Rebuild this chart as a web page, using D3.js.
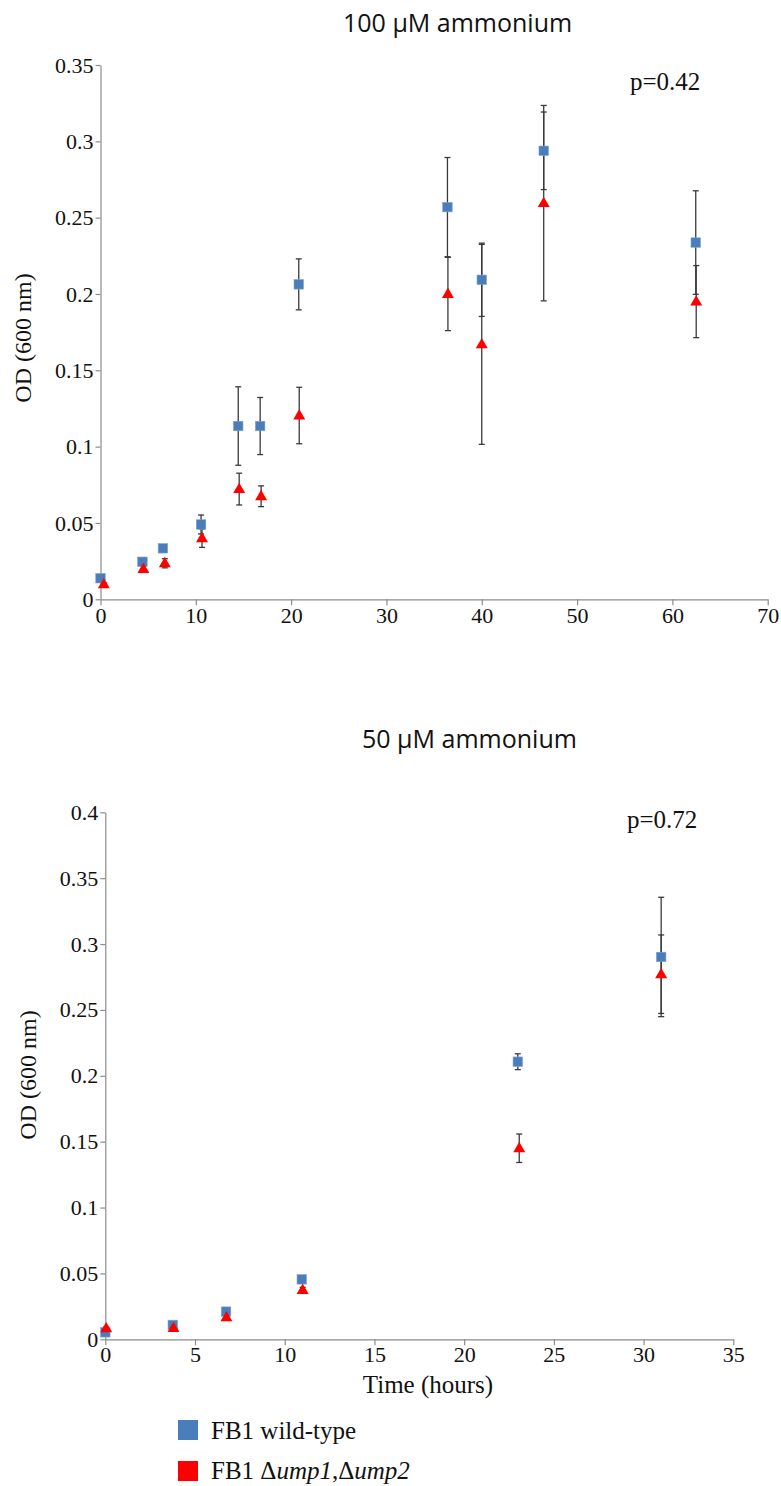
<!DOCTYPE html>
<html>
<head>
<meta charset="utf-8">
<script src="https://cdn.jsdelivr.net/npm/d3@7"></script>
<style>
  html, body { margin: 0; padding: 0; background: #fff; }
  svg { display: block; }
  .tick text { font-family: "Liberation Serif", "Times New Roman", serif; font-size: 22px; fill: #111; }
  .serif { font-family: "Liberation Serif", "Times New Roman", serif; fill: #111; }
  .title { font-family: "Open Sans", "Noto Sans", sans-serif; font-size: 25px; fill: #111; }
</style>
</head>
<body>
<svg id="chart" width="781" height="1486"></svg>
<script>
// ---------- Data: 100 µM ammonium ----------
const wt100Time = [0, 4.4, 6.55, 10.55, 14.45, 16.75, 20.8, 36.4, 40.0, 46.5, 62.45];
const wt100OD   = [0.0138, 0.0246, 0.0334, 0.049, 0.1135, 0.1135, 0.2063, 0.2569, 0.2093, 0.2938, 0.2337];
const wt100Err  = [0.001, 0.002, 0.002, 0.0062, 0.0257, 0.0187, 0.0167, 0.0325, 0.024, 0.0254, 0.0339];
const mut100Time = [0.35, 4.5, 6.75, 10.65, 14.55, 16.85, 20.85, 36.45, 40.0, 46.5, 62.5];
const mut100OD   = [0.0098, 0.0199, 0.0236, 0.040, 0.0722, 0.0675, 0.1204, 0.2, 0.167, 0.2595, 0.195];
const mut100Err  = [0.001, 0.002, 0.003, 0.006, 0.0104, 0.0068, 0.0185, 0.024, 0.0655, 0.064, 0.0236];

// ---------- Data: 50 µM ammonium ----------
const wt50Time = [0, 3.76, 6.73, 10.95, 22.99, 30.98];
const wt50OD   = [0.0053, 0.0109, 0.021, 0.0455, 0.2107, 0.2902];
const wt50Err  = [0.001, 0.002, 0.001, 0.001, 0.006, 0.0453];
const mut50Time = [0.05, 3.8, 6.75, 11.0, 23.07, 30.98];
const mut50OD   = [0.0083, 0.0085, 0.0167, 0.0374, 0.145, 0.2771];
const mut50Err  = [0.001, 0.001, 0.002, 0.002, 0.0108, 0.0298];

// ---------- Axis ticks ----------
const yTicks100 = [0, 0.05, 0.1, 0.15, 0.2, 0.25, 0.3, 0.35];
const yTickLabels100 = ["0", "0.05", "0.1", "0.15", "0.2", "0.25", "0.3", "0.35"];
const xTicks100 = [0, 10, 20, 30, 40, 50, 60, 70];
const yTicks50 = [0, 0.05, 0.1, 0.15, 0.2, 0.25, 0.3, 0.35, 0.4];
const yTickLabels50 = ["0", "0.05", "0.1", "0.15", "0.2", "0.25", "0.3", "0.35", "0.4"];
const xTicks50 = [0, 5, 10, 15, 20, 25, 30, 35];

const titles = ["100 µM ammonium", "50 µM ammonium"];
const pValues = ["p=0.42", "p=0.72"];
const yLabel = "OD (600 nm)";
const xLabel = "Time (hours)";
const seriesNames = ["FB1 wild-type", "FB1 Δump1,Δump2"];

const BLUE = "#4A7EBB";
const RED = "#FF0000";
const AXIS = "#8c8c8c";
const ERR = "#3a3a3a";

const svg = d3.select("#chart");

function drawPanel(cfg) {
  const g = svg.append("g");
  const x = d3.scaleLinear().domain(cfg.xDomain).range(cfg.xRange);
  const y = d3.scaleLinear().domain(cfg.yDomain).range(cfg.yRange);

  const ya = g.append("g")
    .attr("transform", `translate(${cfg.xRange[0]},0)`)
    .call(d3.axisLeft(y).tickValues(cfg.yTicks)
      .tickFormat((d, i) => cfg.yTickLabels[i]).tickSize(5).tickSizeOuter(0).tickPadding(2));
  const xa = g.append("g")
    .attr("transform", `translate(0,${cfg.yRange[0]})`)
    .call(d3.axisBottom(x).tickValues(cfg.xTicks).tickSize(6).tickSizeOuter(0).tickPadding(cfg.xPad));
  [ya, xa].forEach(a => {
    a.select(".domain").attr("stroke", AXIS).attr("stroke-width", 1.2);
    a.selectAll(".tick line").attr("stroke", AXIS).attr("stroke-width", 1.2);
  });

  function errBars(times, vals, errs) {
    const data = times.map((t, i) => ({t, v: vals[i], e: errs[i]}));
    const eg = g.append("g").attr("stroke", ERR).attr("stroke-width", 1.3);
    data.forEach(d => {
      const cx = x(d.t), y1 = y(d.v + d.e), y2 = y(d.v - d.e);
      eg.append("line").attr("x1", cx).attr("x2", cx).attr("y1", y1).attr("y2", y2);
      eg.append("line").attr("x1", cx - 3).attr("x2", cx + 3).attr("y1", y1).attr("y2", y1);
      eg.append("line").attr("x1", cx - 3).attr("x2", cx + 3).attr("y1", y2).attr("y2", y2);
    });
  }
  errBars(cfg.wtTime, cfg.wtOD, cfg.wtErr);
  errBars(cfg.mutTime, cfg.mutOD, cfg.mutErr);

  g.append("g").selectAll("rect")
    .data(cfg.wtTime.map((t, i) => ({t, v: cfg.wtOD[i]})))
    .join("rect")
    .attr("x", d => x(d.t) - 4.75).attr("y", d => y(d.v) - 4.75)
    .attr("width", 9.5).attr("height", 9.5)
    .attr("fill", BLUE).attr("stroke", "#7fa3d3").attr("stroke-width", 0.6);
  const tri = d3.symbol().type(d3.symbolTriangle).size(62);
  g.append("g").selectAll("path")
    .data(cfg.mutTime.map((t, i) => ({t, v: cfg.mutOD[i]})))
    .join("path")
    .attr("d", tri)
    .attr("transform", d => `translate(${x(d.t)},${y(d.v) + 0.5})`)
    .attr("fill", RED);

  svg.append("text").attr("class", "title")
    .attr("x", cfg.titleX).attr("y", cfg.titleY).text(cfg.title);
  svg.append("text").attr("class", "serif").style("font-size", "25px")
    .attr("x", cfg.pX).attr("y", cfg.pY).text(cfg.p);
  svg.append("text").attr("class", "serif").style("font-size", "24px")
    .attr("text-anchor", "middle")
    .attr("transform", `translate(${cfg.yLabelX},${cfg.yLabelY}) rotate(-90)`)
    .text(yLabel);
}

drawPanel({
  xDomain: [0, 70], xRange: [100.5, 767.7],
  yDomain: [0, 0.35], yRange: [599.3, 65],
  yTicks: yTicks100, yTickLabels: yTickLabels100, xTicks: xTicks100, xPad: 2.5,
  wtTime: wt100Time, wtOD: wt100OD, wtErr: wt100Err,
  mutTime: mut100Time, mutOD: mut100OD, mutErr: mut100Err,
  title: titles[0], titleX: 343, titleY: 32,
  p: pValues[0], pX: 630, pY: 90,
  yLabelX: 31, yLabelY: 338
});

drawPanel({
  xDomain: [0, 35], xRange: [105.3, 733.3],
  yDomain: [0, 0.4], yRange: [1339.3, 812.3],
  yTicks: yTicks50, yTickLabels: yTickLabels50, xTicks: xTicks50, xPad: 1,
  wtTime: wt50Time, wtOD: wt50OD, wtErr: wt50Err,
  mutTime: mut50Time, mutOD: mut50OD, mutErr: mut50Err,
  title: titles[1], titleX: 362, titleY: 748,
  p: pValues[1], pX: 627, pY: 828,
  yLabelX: 36, yLabelY: 1075
});

svg.append("text").attr("class", "serif").style("font-size", "25px")
  .attr("text-anchor", "middle").attr("x", 428).attr("y", 1393).text(xLabel);

const legend = svg.append("g");
const legendColors = [BLUE, RED];
const legendY = [1420, 1461];
seriesNames.forEach((name, i) => {
  legend.append("rect").attr("x", 178).attr("y", legendY[i])
    .attr("width", 20).attr("height", 20).attr("fill", legendColors[i]);
});
legend.append("text").attr("class", "serif").style("font-size", "25px")
  .attr("x", 211).attr("y", 1439).text(seriesNames[0]);
const t2 = legend.append("text").attr("class", "serif").style("font-size", "25px")
  .attr("x", 211).attr("y", 1479);
t2.append("tspan").text("FB1 Δ");
t2.append("tspan").style("font-style", "italic").text("ump1");
t2.append("tspan").text(",Δ");
t2.append("tspan").style("font-style", "italic").text("ump2");
</script>
</body>
</html>
